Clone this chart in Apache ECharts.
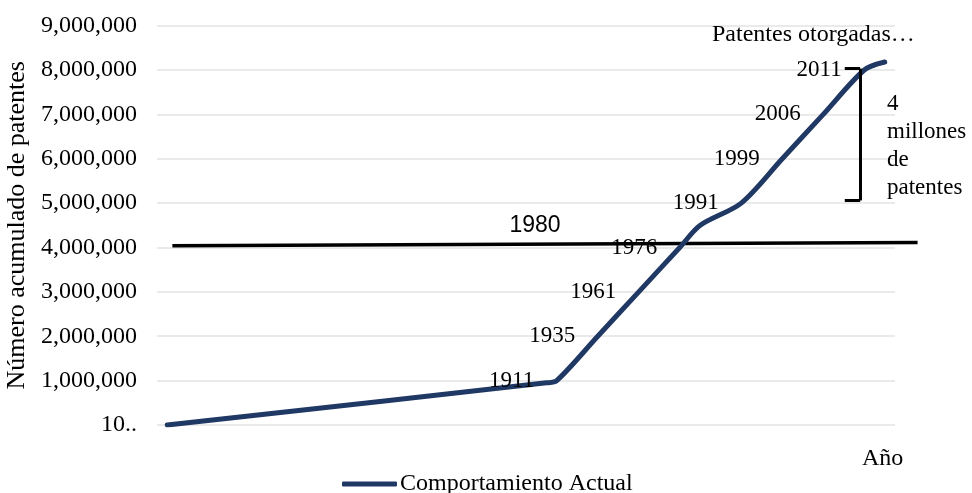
<!DOCTYPE html>
<html>
<head>
<meta charset="utf-8">
<style>
  html, body { margin: 0; padding: 0; background: #fff; }
  #chart { width: 972px; height: 493px; }
</style>
<script src="https://cdn.jsdelivr.net/npm/echarts@6/dist/echarts.min.js"></script>
</head>
<body>
<div id="chart"></div>
<script>
// posición ordinal de cada punto sobre el eje X (oculto)
const periodo = [0, 18.5, 19, 21, 23, 25, 26, 28, 30, 32, 34, 35]
// número acumulado de patentes
const acumulado = [10, 950000, 1000000, 2000000, 3000000, 4000000, 4500000, 5000000, 6000000, 7000000, 8000000, 8180000]
// año que se muestra junto a cada punto
const anioEtiqueta = ['', '', '1911', '1935', '1961', '1976', '', '1991', '1999', '2006', '2011', '']

// línea de referencia 1980
const linea1980 = [[0.25, 4040000], [36.6, 4110000]]
// llave de "4 millones de patentes"
const llave = { x: 33.8, xTick: 33.05, desde: 5060000, hasta: 8030000 }

const serif = '"Liberation Serif", "Times New Roman", serif'
const sans = '"Liberation Sans", Arial, sans-serif'
const azul = '#203864'
const chart = echarts.init(document.getElementById('chart'))

const puntos = periodo.map((p, i) => ({
    value: [p, acumulado[i]],
    label: { show: anioEtiqueta[i] !== '' }
}))

const option = {
    animation: false,
    title: {
        text: 'Patentes otorgadas…',
        left: 707,
        top: 18,
        textStyle: { fontFamily: serif, fontSize: 24, fontWeight: 'normal', color: '#000' }
    },
    legend: {
        left: 337,
        top: 467,
        icon: 'roundRect',
        itemWidth: 55,
        itemHeight: 5,
        itemGap: 4,
        itemStyle: { color: azul, borderWidth: 0 },
        textStyle: { fontFamily: serif, fontSize: 24, color: '#000', padding: [0, 0, 0, -2] },
        data: ['Comportamiento Actual']
    },
    grid: { left: 157, right: 77, top: 25.6, bottom: 68, outerBoundsMode: 'none' },
    xAxis: {
        type: 'value',
        min: -0.5,
        max: 35.5,
        axisLine: { show: false },
        axisTick: { show: false },
        axisLabel: { show: false },
        splitLine: { show: false },
        name: 'Año',
        nameLocation: 'end',
        nameGap: -33,
        nameTextStyle: {
            fontFamily: serif, fontSize: 24, color: '#000',
            verticalAlign: 'top', padding: [22, 0, 0, 0]
        }
    },
    yAxis: {
        type: 'value',
        min: 0,
        max: 9000000,
        interval: 1000000,
        axisLine: { show: false },
        axisTick: { show: false },
        axisLabel: {
            margin: 20,
            fontFamily: serif, fontSize: 24, color: '#000',
            formatter: v => v === 0 ? '10..' : v.toLocaleString('en-US')
        },
        splitLine: { lineStyle: { color: '#e3e3e3', width: 1.5 } },
        name: 'Número acumulado de patentes',
        nameLocation: 'middle',
        nameGap: 124,
        nameTextStyle: { fontFamily: serif, fontSize: 26, color: '#000' }
    },
    series: [
        {
            name: 'Comportamiento Actual',
            type: 'line',
            data: puntos,
            smooth: 0.3,
            symbol: 'circle',
            symbolSize: 1,
            showSymbol: true,
            lineStyle: { color: azul, width: 5, cap: 'round', join: 'round' },
            itemStyle: { color: 'rgba(0,0,0,0)', borderWidth: 0 },
            label: {
                position: 'left',
                distance: 22,
                fontFamily: serif,
                fontSize: 23,
                color: '#000',
                formatter: p => anioEtiqueta[p.dataIndex]
            },
            markLine: {
                silent: true,
                symbol: 'none',
                animation: false,
                label: { show: false },
                lineStyle: { color: '#000', width: 3, type: 'solid' },
                data: [
                    [{ coord: [llave.x, llave.desde] }, { coord: [llave.x, llave.hasta] }],
                    [{ coord: [llave.xTick, llave.hasta] }, { coord: [llave.x, llave.hasta] }],
                    [{ coord: [llave.xTick, llave.desde] }, { coord: [llave.x, llave.desde] }]
                ]
            }
        }
    ]
}

chart.setOption(option)

// la línea de 1980 sobresale del área del gráfico: se ubica con las escalas del propio eje
const a = chart.convertToPixel({ gridIndex: 0 }, linea1980[0])
const b = chart.convertToPixel({ gridIndex: 0 }, linea1980[1])

chart.setOption({
    graphic: [
        {
            type: 'line',
            shape: { x1: a[0], y1: a[1], x2: b[0], y2: b[1] },
            style: { stroke: '#000', lineWidth: 3.5 },
            z: 3
        },
        {
            type: 'text',
            x: (a[0] + b[0]) / 2 - 10,
            y: (a[1] + b[1]) / 2 - 7,
            style: {
                text: '1980',
                font: '23px ' + sans,
                fill: '#000',
                align: 'center',
                verticalAlign: 'bottom'
            },
            z: 3
        },
        {
            type: 'text',
            left: 887,
            top: 90,
            style: {
                text: '4\nmillones\nde\npatentes',
                font: '23px ' + serif,
                lineHeight: 28,
                fill: '#000'
            }
        }
    ]
})
</script>
</body>
</html>
